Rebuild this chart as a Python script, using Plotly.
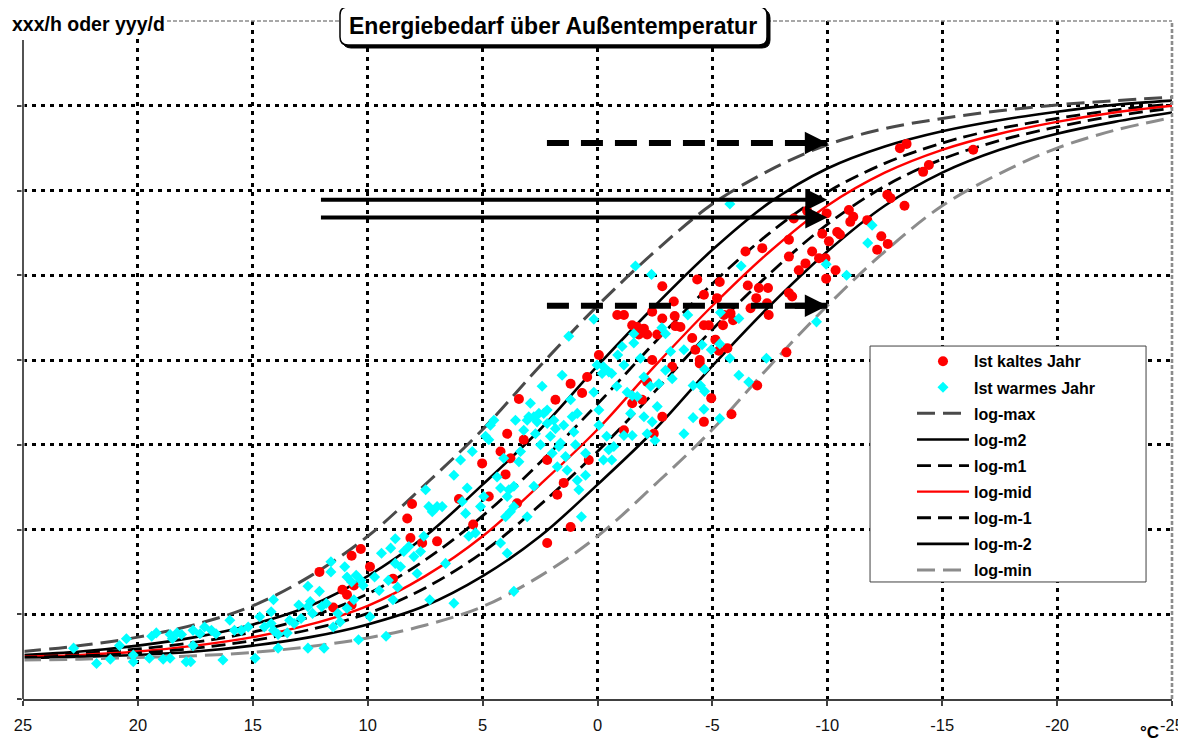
import plotly.graph_objects as go

# ---------------- data ----------------
TEMPS = [25, 22.5, 20, 17.5, 15, 12.5, 10, 7.5, 5, 2.5, 0, -2.5, -5, -7.5, -10, -12.5, -15, -17.5, -20, -22.5, -25]
LOG_MAX = [0.56, 0.63, 0.73, 0.88, 1.10, 1.45, 1.92, 2.53, 3.18, 3.93, 4.64, 5.28, 5.84, 6.24, 6.54, 6.73, 6.85, 6.94, 7.01, 7.06, 7.10]
LOG_M2 = [0.52, 0.56, 0.63, 0.73, 0.88, 1.10, 1.45, 1.92, 2.53, 3.18, 3.93, 4.64, 5.30, 5.86, 6.26, 6.52, 6.70, 6.83, 6.93, 7.01, 7.06]
LOG_M1 = [0.51, 0.54, 0.59, 0.67, 0.79, 0.97, 1.24, 1.64, 2.16, 2.79, 3.48, 4.21, 4.90, 5.50, 5.98, 6.32, 6.56, 6.73, 6.85, 6.95, 7.02]
LOG_MID = [0.50, 0.52, 0.56, 0.63, 0.73, 0.88, 1.10, 1.45, 1.92, 2.53, 3.18, 3.93, 4.64, 5.28, 5.82, 6.21, 6.48, 6.67, 6.81, 6.92, 7.00]
LOG_M_1 = [0.49, 0.51, 0.54, 0.60, 0.69, 0.82, 1.01, 1.31, 1.73, 2.29, 2.92, 3.63, 4.36, 5.02, 5.60, 6.05, 6.37, 6.59, 6.75, 6.88, 6.97]
LOG_M_2 = [0.48, 0.50, 0.52, 0.56, 0.63, 0.73, 0.88, 1.10, 1.45, 1.92, 2.53, 3.18, 3.93, 4.64, 5.28, 5.82, 6.21, 6.48, 6.67, 6.81, 6.92]
LOG_MIN = [0.46, 0.47, 0.49, 0.51, 0.55, 0.62, 0.72, 0.87, 1.09, 1.45, 1.92, 2.53, 3.18, 3.93, 4.64, 5.28, 5.82, 6.20, 6.50, 6.71, 6.86]

RED_POINTS = [
    (12.1, 1.50), (10.7, 1.69), (10.3, 1.77), (9.9, 1.56), (11.1, 1.29), (10.9, 1.23), (10.7, 1.11),
    (11.5, 1.08), (10.6, 1.34), (8.9, 1.42),
    (8.07, 2.30), (8.28, 2.13), (8.14, 1.90), (7.63, 1.84), (6.98, 1.86), (6.03, 2.36), (5.41, 2.06),
    (5.02, 2.78), (4.73, 2.39), (3.93, 3.13), (3.79, 2.84), (4.00, 2.65), (3.50, 2.31), (3.42, 3.54),
    (3.21, 3.06), (1.83, 3.53), (2.19, 2.82), (1.75, 2.41), (1.47, 2.55), (1.17, 2.03), (2.19, 1.84),
    (4.22, 2.92), (1.17, 3.72), (0.67, 3.61), (0.45, 3.80), (0.38, 2.82), (-0.06, 4.06), (-0.86, 4.53),
    (-1.15, 4.53), (-1.51, 4.41), (-1.73, 4.39), (-2.02, 4.37), (-1.80, 4.30), (-2.16, 4.30), (-2.38, 4.57),
    (-2.60, 4.30), (-2.82, 4.87), (-2.82, 4.49), (-3.32, 4.69), (-3.36, 4.52), (-3.39, 4.40), (-3.25, 3.92),
    (-2.38, 4.00), (-2.16, 3.74), (-1.94, 3.53), (-1.51, 3.49), (-2.45, 3.13), (-2.82, 3.33), (-1.15, 3.17),
    (-13.16, 6.50), (-13.45, 6.55), (-16.35, 6.48), (-14.42, 6.30), (-14.17, 6.22), (-12.61, 5.95),
    (-12.75, 5.91), (-13.36, 5.82), (-11.74, 5.65), (-10.94, 5.77), (-11.13, 5.69), (-11.0, 5.63),
    (-12.35, 5.46), (-12.63, 5.37), (-12.17, 5.30), (-10.43, 5.51), (-10.55, 5.48), (-10.07, 5.40),
    (-9.78, 5.49), (-9.97, 5.73), (-9.12, 5.76), (-8.54, 5.67), (-8.33, 5.42), (-9.34, 5.28), (-9.64, 5.20),
    (-9.05, 5.14), (-8.76, 5.06), (-8.33, 5.22), (-9.92, 5.20), (-10.36, 5.06), (-9.95, 4.96), (-7.17, 5.32),
    (-6.44, 5.28), (-6.54, 4.88), (-7.02, 4.85), (-7.42, 4.85), (-6.91, 4.73), (-7.38, 4.67), (-7.45, 4.53),
    (-6.66, 4.61), (-8.33, 4.79), (-8.47, 4.75), (-5.32, 4.92), (-5.20, 4.73), (-4.63, 4.77), (-4.34, 4.95),
    (-5.79, 4.55), (-5.50, 4.53), (-5.90, 4.47), (-4.63, 4.41), (-4.84, 4.41), (-5.46, 4.41), (-3.61, 4.39),
    (-4.12, 4.26), (-5.13, 4.24), (-4.26, 4.12), (-5.65, 4.14), (-5.28, 4.11), (-4.45, 4.00), (-4.45, 3.96),
    (-8.22, 4.09), (-6.95, 3.70), (-4.95, 3.55), (-5.83, 3.36), (-4.63, 3.27),
]

CYAN_POINTS = [
    (22.8, 0.60), (21.8, 0.42), (21.2, 0.47), (20.8, 0.63), (20.5, 0.71), (20.2, 0.52), (20.2, 0.44),
    (19.5, 0.48), (19.4, 0.74), (19.2, 0.78), (18.9, 0.47), (18.6, 0.48), (18.6, 0.76), (18.5, 0.71),
    (18.3, 0.78), (18.1, 0.76), (17.9, 0.44), (17.7, 0.44), (17.6, 0.81), (17.6, 0.63), (17.3, 0.77),
    (17.1, 0.85), (16.8, 0.81), (16.6, 0.77), (16.3, 0.46), (16.0, 0.93), (15.8, 0.81), (15.5, 0.81),
    (15.2, 0.85), (14.9, 0.48), (14.7, 0.97), (14.5, 0.85), (14.2, 0.89), (14.2, 1.03), (14.1, 1.17),
    (14.1, 0.81), (13.9, 0.60), (13.9, 0.76), (13.5, 0.78), (13.4, 0.93), (13.2, 0.89), (13.0, 1.11),
    (12.9, 0.95), (12.6, 0.60), (12.6, 1.33), (12.6, 1.09), (12.5, 1.15), (12.4, 1.01), (12.1, 1.27),
    (12.0, 1.09), (11.9, 0.60), (11.8, 1.13), (11.6, 1.62), (11.6, 1.50), (11.5, 0.85), (11.3, 1.01),
    (11.2, 0.91), (11.0, 1.56), (10.9, 1.44), (10.9, 1.07), (10.7, 1.38), (10.6, 1.17), (10.5, 1.46),
    (10.4, 0.70), (10.3, 1.40), (10.2, 1.34), (9.9, 0.97), (9.7, 1.44), (9.5, 1.28), (9.4, 1.72),
    (9.2, 0.74), (9.1, 1.40), (9.0, 1.78), (8.9, 1.17), (8.8, 1.60), (8.7, 1.32), (8.8, 1.89),
    (8.57, 1.56), (8.43, 1.74), (8.21, 1.80), (7.99, 1.68), (7.85, 1.48), (7.70, 1.74), (7.56, 1.92),
    (7.48, 2.47), (7.34, 2.27), (7.19, 2.21), (6.98, 2.27), (6.76, 2.27), (6.61, 1.60), (6.25, 2.64),
    (5.96, 2.82), (5.89, 2.33), (5.74, 2.19), (5.67, 2.49), (5.60, 1.92), (5.45, 2.92), (5.31, 1.96),
    (5.09, 2.27), (4.95, 2.39), (4.87, 3.10), (4.73, 3.06), (4.66, 3.23), (4.51, 3.29), (4.37, 2.62),
    (4.22, 2.49), (4.08, 2.84), (3.93, 2.39), (4.00, 2.15), (3.86, 2.47), (3.79, 2.21), (3.64, 2.27),
    (3.64, 2.51), (3.57, 3.29), (3.42, 2.80), (3.35, 2.92), (3.21, 3.17), (3.06, 3.29), (2.99, 3.33),
    (2.92, 3.49), (2.77, 3.33), (2.70, 3.13), (2.63, 3.27), (2.55, 3.37), (2.48, 3.00), (2.41, 3.69),
    (2.34, 3.37), (2.19, 3.41), (2.19, 3.25), (2.05, 3.10), (1.97, 2.90), (1.90, 3.29), (1.83, 3.19),
    (1.75, 2.74), (1.68, 2.98), (1.61, 3.02), (1.54, 3.82), (1.47, 3.23), (1.39, 2.86), (1.32, 2.70),
    (1.17, 3.53), (1.10, 3.33), (1.03, 3.15), (0.96, 3.00), (0.88, 2.58), (0.81, 2.47), (0.88, 3.37),
    (4.22, 1.84), (3.93, 1.72), (3.64, 1.27), (3.06, 2.15), (2.77, 2.51), (6.25, 1.13), (7.30, 1.17),
    (0.70, 2.15),
    (-1.65, 5.11), (-2.35, 5.01), (0.16, 4.48), (1.25, 4.28), (0.02, 3.94), (-0.26, 3.92), (-0.49, 3.86),
    (-1.15, 3.94), (-1.07, 4.16), (-0.88, 4.06), (-1.58, 4.31), (-1.58, 4.20), (-1.87, 4.02), (-2.02, 3.80),
    (-2.31, 3.69), (-2.67, 3.72), (-2.80, 4.38), (-2.96, 4.31), (-2.96, 3.88), (-3.25, 3.78), (-3.18, 4.10),
    (-2.16, 3.13), (-2.38, 3.27), (-2.60, 3.45), (-2.02, 3.33), (-1.51, 3.11), (-1.15, 3.11), (-0.71, 2.98),
    (-0.49, 2.94), (-0.26, 2.82), (-0.62, 2.82), (-0.40, 3.10), (-0.06, 3.23), (0.16, 3.62), (-0.06, 3.41),
    (-0.20, 3.84), (-0.62, 3.84), (-0.84, 3.69), (-1.29, 3.62), (-1.51, 3.58), (-1.73, 3.57), (-1.44, 3.37),
    (0.52, 2.64), (0.52, 2.90), (-2.50, 3.05),
    (-5.76, 5.84), (-6.25, 5.11), (-11.95, 5.59), (-11.76, 5.38), (-9.95, 5.13), (-10.84, 5.00),
    (-3.93, 4.53), (-6.15, 4.49), (-5.35, 4.56), (-3.76, 4.12), (-4.55, 4.18), (-4.95, 4.12), (-5.32, 4.19),
    (-5.76, 4.02), (-7.35, 4.02), (-9.53, 4.45), (-4.66, 3.89), (-4.16, 3.70), (-4.48, 3.70), (-4.66, 3.63),
    (-6.15, 3.82), (-6.58, 3.74), (-4.63, 3.42), (-4.16, 3.32), (-5.32, 3.31), (-3.76, 3.13),
]

TICK_VALUES = [25, 20, 15, 10, 5, 0, -5, -10, -15, -20, -25]
TICK_LABELS = ["25", "20", "15", "10", "5", "0", "-5", "-10", "-15", "-20", "-25"]

ARROW_Y = [6.56, 5.89, 5.68, 4.64]
ARROW_FROM = [2.2, 12.1, 12.1, 2.2]
ARROW_TO = [-10, -10, -10, -10]
ARROW_DASHED = [True, False, False, True]

FONT = "Liberation Sans, Arial, sans-serif"

# ---------------- figure ----------------
fig = go.Figure()

curves = [
    ("log-max", LOG_MAX, "#4a4a4a", "18px,8px", 3),
    ("log-m2", LOG_M2, "#000000", "solid", 2.6),
    ("log-m1", LOG_M1, "#000000", "14px,7px", 2.8),
    ("log-mid", LOG_MID, "#ff0000", "solid", 2.4),
    ("log-m-1", LOG_M_1, "#000000", "14px,7px", 2.8),
    ("log-m-2", LOG_M_2, "#000000", "solid", 2.6),
    ("log-min", LOG_MIN, "#8c8c8c", "18px,8px", 3),
]
for i, (name, ys, color, dash, width) in enumerate(curves):
    fig.add_trace(go.Scatter(
        x=TEMPS, y=ys, mode="lines", name=name,
        line=dict(color=color, width=width, dash=dash, shape="spline", smoothing=1.0),
        legendrank=3 + i, legendgroup=name,
    ))

fig.add_trace(go.Scatter(
    x=[p[0] for p in RED_POINTS], y=[p[1] for p in RED_POINTS],
    mode="markers", name="Ist kaltes Jahr",
    marker=dict(symbol="circle", size=10, color="#ff0000", line=dict(width=0)),
    legendrank=1, legendgroup="red",
))
fig.add_trace(go.Scatter(
    x=[p[0] for p in CYAN_POINTS], y=[p[1] for p in CYAN_POINTS],
    mode="markers", name="Ist warmes Jahr",
    marker=dict(symbol="diamond", size=8.5, color="#00ffff", line=dict(width=0)),
    legendrank=2, legendgroup="cyan",
))

annotations = []
for y, x0, x1, dashed in zip(ARROW_Y, ARROW_FROM, ARROW_TO, ARROW_DASHED):
    if dashed:
        fig.add_trace(go.Scatter(
            x=[x0, x1], y=[y, y], mode="lines", showlegend=False, hoverinfo="skip",
            line=dict(color="black", width=6, dash="22px,12px"),
        ))
        annotations.append(dict(
            x=x1, y=y, xref="x", yref="y", ax=-34, ay=0, text="", showarrow=True,
            arrowhead=2, arrowwidth=6, arrowsize=0.75, arrowcolor="black",
        ))
    else:
        annotations.append(dict(
            x=x1, y=y, xref="x", yref="y", ax=x0, ay=y, axref="x", ayref="y", text="",
            showarrow=True, arrowhead=2, arrowwidth=4, arrowsize=1.1, arrowcolor="black",
        ))


def rounded_rect(w, h, r, dx=0.0, dy=0.0):
    x0, x1 = -w / 2 + dx, w / 2 + dx
    y0, y1 = -h / 2 + dy, h / 2 + dy
    return (f"M{x0 + r},{y0} L{x1 - r},{y0} Q{x1},{y0} {x1},{y0 + r} L{x1},{y1 - r} "
            f"Q{x1},{y1} {x1 - r},{y1} L{x0 + r},{y1} Q{x0},{y1} {x0},{y1 - r} "
            f"L{x0},{y0 + r} Q{x0},{y0} {x0 + r},{y0} Z")


grid_dash = "4px,5px"
shapes = [
    # plot-area frame: gray dashed top/right, solid left axis line stopping below the top
    dict(type="line", xref="paper", yref="paper", x0=0, x1=1, y0=1, y1=1,
         line=dict(color="#8c8c8c", width=1.5, dash="4px,2px"), layer="above"),
    dict(type="line", xref="paper", yref="paper", x0=1, x1=1, y0=0, y1=1,
         line=dict(color="#8c8c8c", width=2.6, dash="4px,2px"), layer="above"),
    dict(type="line", xref="paper", yref="paper", x0=0, x1=0, y0=0, y1=1,
         line=dict(color="white", width=3), layer="above"),
    dict(type="line", xref="paper", yref="paper", x0=0, x1=0, y0=0, y1=0.972,
         line=dict(color="#404040", width=1.8), layer="above"),
    # legend frame
    dict(type="rect", xref="paper", yref="paper", x0=0.7372, x1=0.9774, y0=0.1726, y1=0.5206,
         fillcolor="white", line=dict(color="#404040", width=1), layer="above"),
    # title box: shadow + rounded box
    dict(type="path", xref="paper", yref="paper", xsizemode="pixel", ysizemode="pixel",
         xanchor=0.4617, yanchor=0.99263, path=rounded_rect(427, 38, 8, 3, -3),
         fillcolor="black", line=dict(color="black", width=1), layer="above"),
    dict(type="path", xref="paper", yref="paper", xsizemode="pixel", ysizemode="pixel",
         xanchor=0.4617, yanchor=0.99263, path=rounded_rect(427, 38, 8),
         fillcolor="white", line=dict(color="black", width=1.5), layer="above"),
]

annotations += [
    dict(text="<b>Energiebedarf über Außentemperatur</b>", xref="paper", yref="paper",
         x=0.4617, y=0.99263, xanchor="center", yanchor="middle", showarrow=False,
         font=dict(family=FONT, size=23, color="black")),
    dict(text="<b>xxx/h oder yyy/d</b>", xref="paper", yref="paper",
         x=-0.0113, y=0.9956, xanchor="left", yanchor="middle", showarrow=False,
         bgcolor="white", font=dict(family=FONT, size=19.5, color="black")),
    dict(text="<b>°C</b>", xref="paper", yref="paper",
         x=0.98, y=-0.0487, xanchor="center", yanchor="middle", showarrow=False,
         font=dict(family=FONT, size=17, color="black")),
]

# The page body has an 8px default margin, so the figure is sized/shifted to compensate.
fig.update_layout(
    width=1178, height=734,
    margin=dict(l=15, r=14, t=13, b=43),
    paper_bgcolor="white", plot_bgcolor="white",
    font=dict(family=FONT, color="black"),
    xaxis=dict(
        range=[25, -25], tickmode="array", tickvals=TICK_VALUES, ticktext=TICK_LABELS,
        showgrid=True, gridcolor="black", gridwidth=2.5, griddash=grid_dash,
        showline=True, linecolor="#404040", linewidth=2,
        ticks="outside", ticklen=5, tickwidth=1.5, tickcolor="#404040",
        tickfont=dict(family=FONT, size=16.5, color="#111111"), ticklabelstandoff=5,
        zeroline=False, fixedrange=True, automargin=False,
    ),
    yaxis=dict(
        range=[0, 8], tickmode="array", tickvals=[0, 1, 2, 3, 4, 5, 6, 7],
        showticklabels=False, showgrid=True, gridcolor="black", gridwidth=2.5, griddash=grid_dash,
        showline=False,
        ticks="outside", ticklen=5, tickwidth=1.5, tickcolor="#404040",
        zeroline=False, fixedrange=True, automargin=False,
    ),
    legend=dict(
        x=0.7737, y=0.5232, xanchor="left", yanchor="top",
        bgcolor="rgba(0,0,0,0)", borderwidth=0,
        font=dict(family=FONT, size=16, color="black", weight="bold"),
        tracegroupgap=2.3, itemwidth=52,
    ),
    shapes=shapes,
    annotations=annotations,
    showlegend=True,
)

fig.write_html("out.html")
